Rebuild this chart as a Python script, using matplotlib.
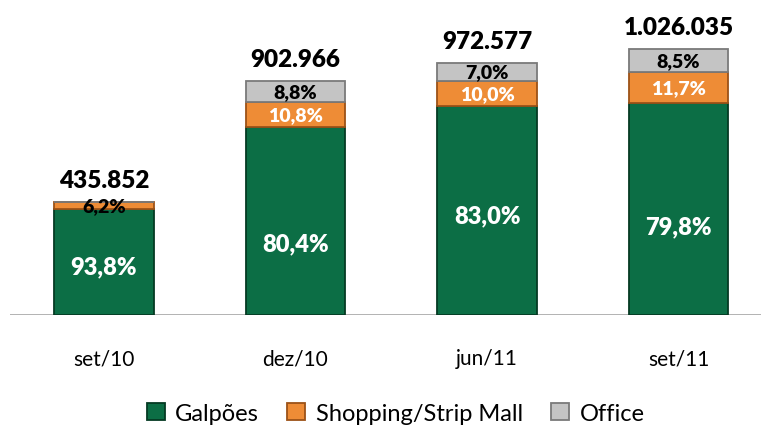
import numpy as np
import matplotlib
matplotlib.use("Agg")
import matplotlib.pyplot as plt
from matplotlib.patches import Patch

plt.rcParams["font.family"] = ["Lato", "DejaVu Sans"]

categories = ["set/10", "dez/10", "jun/11", "set/11"]
totals = [435852, 902966, 972577, 1026035]
total_labels = ["435.852", "902.966", "972.577", "1.026.035"]
series = ["Galpões", "Shopping/Strip Mall", "Office"]
pct_galpoes = [93.8, 80.4, 83.0, 79.8]
pct_shopping = [6.2, 10.8, 10.0, 11.7]
pct_office = [0.0, 8.8, 7.0, 8.5]

colors = ["#0c6e45", "#ee8c36", "#c4c4c4"]
edges = ["#053a23", "#9c5217", "#7a7a7a"]
txt_col = ["white", "white", "black"]
# where Excel happened to put the big labels, pixels below segment centre
galp_drop = [4, 22, 5, 17]

fig = plt.figure(figsize=(7.61, 4.27), dpi=100)
ax = fig.add_axes([10 / 761, 111 / 427, 751 / 761, 311 / 427])

x = np.arange(len(categories))
w = 0.52
pcts = [pct_galpoes, pct_shopping, pct_office]
bottom = np.zeros(len(categories))
for k, p in enumerate(pcts):
    h = np.array(totals) * np.array(p) / 100.0
    ax.bar(x, h, w, bottom=bottom, color=colors[k], edgecolor=edges[k], linewidth=1.3, zorder=2)
    for i in range(len(categories)):
        if p[i] <= 0:
            continue
        lab = f"{p[i]:.1f}%".replace(".", ",")
        if k == 0:
            ax.annotate(lab, (x[i], bottom[i] + h[i] / 2), xytext=(0, -galp_drop[i] * 0.72),
                        textcoords="offset points", ha="center", va="center",
                        color="white", fontsize=17, fontweight="heavy", zorder=5)
        else:
            col = txt_col[k] if h[i] > 40000 else "black"
            ax.text(x[i], bottom[i] + h[i] / 2, lab, ha="center", va="center",
                    color=col, fontsize=14, fontweight="heavy", zorder=5)
    bottom += h

for i in range(len(categories)):
    ax.text(x[i], totals[i] + 42000, total_labels[i], ha="center", va="bottom",
            fontsize=17.5, fontweight="heavy", color="black")

ax.set_xlim(-0.49, 3.43)
ax.set_ylim(0, 1200000)
ax.axhline(0, color="#a6a6a6", lw=1.2, zorder=1)
for s in ax.spines.values():
    s.set_visible(False)
ax.set_yticks([])
ax.set_xticks(x)
ax.set_xticklabels(categories, fontsize=15)
ax.tick_params(axis="x", length=0, pad=24)

handles = [Patch(facecolor=colors[k], edgecolor=edges[k], linewidth=1.3) for k in range(3)]
fig.legend(handles, series, loc="center", bbox_to_anchor=(0.52, 0.03), ncol=3,
           frameon=False, fontsize=17, handlelength=0.75, handleheight=0.75,
           handletextpad=0.45, columnspacing=1.2)

fig.savefig("out.png", dpi=100)
